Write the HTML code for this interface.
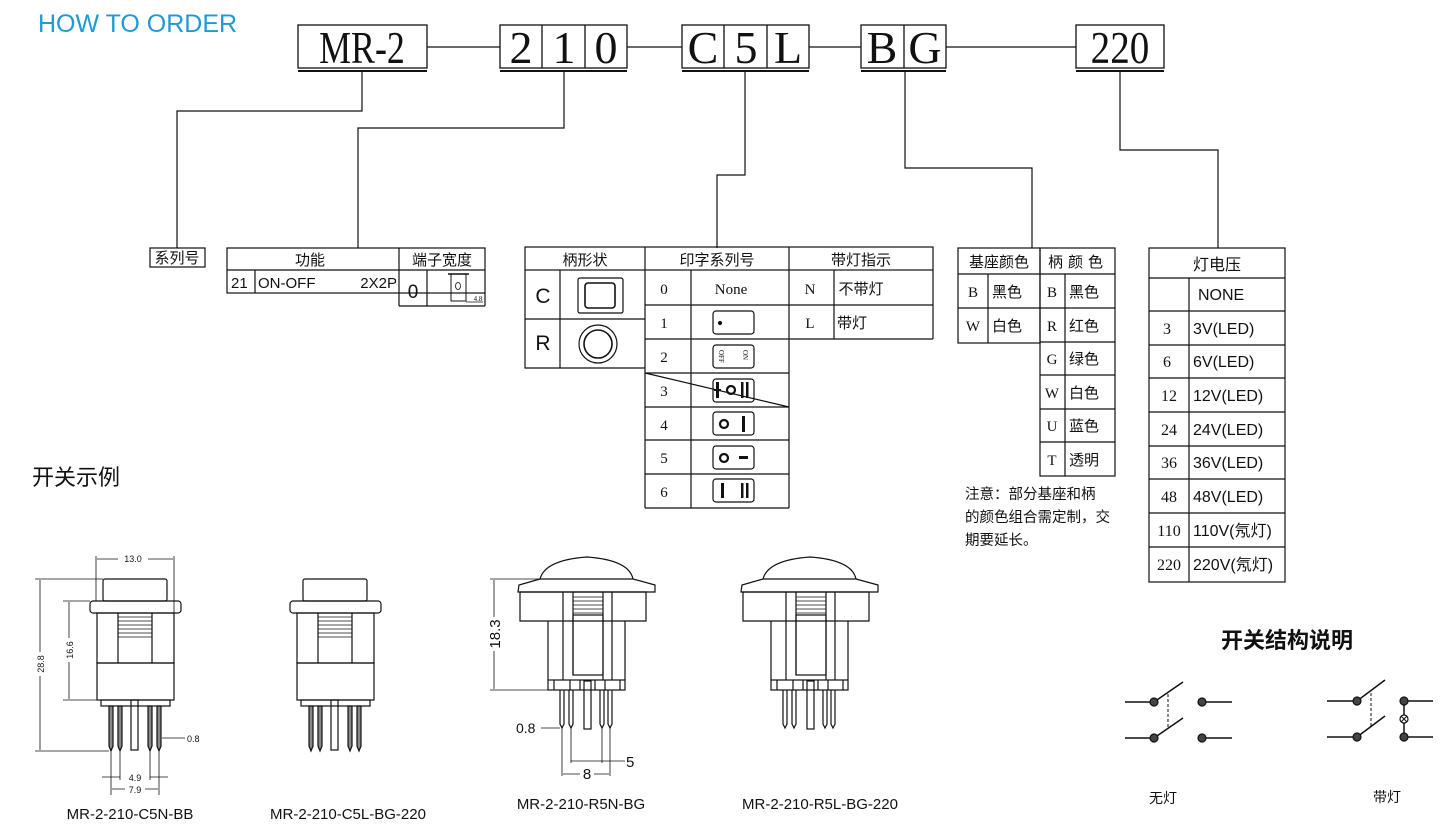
<!DOCTYPE html>
<html><head><meta charset="utf-8"><style>
html,body{margin:0;padding:0;background:#fff;}
svg{display:block;}
.s{font-family:"Liberation Serif","Noto Serif CJK SC",serif;}
.a{font-family:"Liberation Sans","Noto Sans CJK SC",sans-serif;}
.c{font-family:"Liberation Serif","Noto Sans CJK SC",sans-serif;}
</style></head><body>
<svg width="1450" height="836" viewBox="0 0 1450 836" xmlns="http://www.w3.org/2000/svg" fill="none" stroke="#111" stroke-width="1.2">
<text x="38" y="32" class="a" font-size="25" fill="#1e9ad6" stroke="none">HOW TO ORDER</text>

<!-- top code boxes -->
<g stroke-width="1.3">
<rect x="298" y="25" width="129" height="43"/><line x1="298" y1="71" x2="427" y2="71" stroke-width="2"/>
<rect x="500" y="25" width="127" height="43"/><line x1="542" y1="25" x2="542" y2="68"/><line x1="585" y1="25" x2="585" y2="68"/><line x1="500" y1="71" x2="627" y2="71" stroke-width="2"/>
<rect x="682" y="25" width="127" height="43"/><line x1="724" y1="25" x2="724" y2="68"/><line x1="767" y1="25" x2="767" y2="68"/><line x1="682" y1="71" x2="809" y2="71" stroke-width="2"/>
<rect x="861" y="25" width="85" height="43"/><line x1="904" y1="25" x2="904" y2="68"/><line x1="861" y1="71" x2="946" y2="71" stroke-width="2"/>
<rect x="1076" y="25" width="88" height="43"/><line x1="1076" y1="71" x2="1164" y2="71" stroke-width="2"/>
<line x1="427" y1="47" x2="500" y2="47"/><line x1="627" y1="47" x2="682" y2="47"/><line x1="809" y1="47" x2="861" y2="47"/><line x1="946" y1="47" x2="1076" y2="47"/>
</g>
<g class="s" font-size="46" fill="#111" stroke="none" text-anchor="middle">
<text x="362" y="63" transform="translate(362 0) scale(0.78 1) translate(-362 0)">MR-2</text>
<text x="521" y="63">2</text><text x="564" y="63">1</text><text x="606" y="63">0</text>
<text x="703" y="63">C</text><text x="746" y="63">5</text><text x="788" y="63">L</text>
<text x="882" y="63">B</text><text x="925" y="63">G</text>
<text x="1120" y="63" transform="translate(1120 0) scale(0.85 1) translate(-1120 0)">220</text>
</g>

<!-- connectors -->
<polyline points="362,72 362,111 177,111 177,248"/>
<polyline points="564,72 564,128 358,128 358,248"/>
<polyline points="745,72 745,175 717,175 717,248"/>
<polyline points="905,72 905,168 1032,168 1032,248"/>
<polyline points="1120,72 1120,150 1218,150 1218,248"/>

<!-- 系列号 -->
<rect x="150" y="248" width="55" height="19"/>
<text x="177" y="263" class="c" font-size="15" fill="#111" stroke="none" text-anchor="middle">系列号</text>

<!-- function table -->
<rect x="227" y="248" width="258" height="45"/>
<line x1="227" y1="270" x2="485" y2="270"/>
<line x1="399" y1="248" x2="399" y2="306"/><line x1="399" y1="306" x2="485" y2="306"/><line x1="485" y1="293" x2="485" y2="306"/>
<line x1="255" y1="270" x2="255" y2="293"/><line x1="427" y1="270" x2="427" y2="306"/>
<g fill="#111" stroke="none">
<text x="310" y="265" class="c" font-size="15" text-anchor="middle">功能</text>
<text x="442" y="265" class="c" font-size="15" text-anchor="middle">端子宽度</text>
<text x="231" y="288" class="a" font-size="15">21</text>
<text x="258" y="288" class="a" font-size="15">ON-OFF</text>
<text x="397" y="288" class="a" font-size="15" text-anchor="end">2X2P</text>
<text x="413" y="298" class="a" font-size="19" text-anchor="middle">0</text>
<text x="478" y="301" class="s" font-size="7" text-anchor="middle">4.8</text>
</g>
<rect x="451" y="274" width="15" height="27" stroke-width="1"/><line x1="448" y1="274" x2="469" y2="274" stroke-width="1.5"/>
<ellipse cx="458" cy="286" rx="2.5" ry="3.5" stroke-width="0.8"/><line x1="466" y1="302" x2="483" y2="302" stroke-width="0.7"/>

<!-- handle shape table -->
<rect x="525" y="247" width="408" height="23"/>
<line x1="645" y1="247" x2="645" y2="508"/><line x1="789" y1="247" x2="789" y2="508"/><line x1="933" y1="270" x2="933" y2="339"/>
<polyline points="525,270 525,368 645,368"/><line x1="525" y1="319" x2="645" y2="319"/><line x1="560" y1="270" x2="560" y2="368"/>
<line x1="645" y1="508" x2="789" y2="508"/>
<line x1="691" y1="270" x2="691" y2="508"/><line x1="834" y1="270" x2="834" y2="339"/>
<line x1="645" y1="305" x2="933" y2="305"/><line x1="645" y1="339" x2="933" y2="339"/>
<line x1="645" y1="373" x2="789" y2="373"/><line x1="645" y1="407" x2="789" y2="407"/><line x1="645" y1="440" x2="789" y2="440"/><line x1="645" y1="474" x2="789" y2="474"/>
<line x1="645" y1="373" x2="789" y2="407"/>
<g fill="#111" stroke="none" class="c" font-size="15" text-anchor="middle">
<text x="585" y="265">柄形状</text><text x="717" y="265">印字系列号</text><text x="861" y="265">带灯指示</text>
<text x="543" y="303" class="a" font-size="21">C</text><text x="543" y="350" class="a" font-size="21">R</text>
<text x="664" y="294">0</text><text x="664" y="328">1</text><text x="664" y="362">2</text><text x="664" y="396">3</text><text x="664" y="430">4</text><text x="664" y="463">5</text><text x="664" y="497">6</text>
<text x="731" y="294">None</text>
<text x="810" y="294">N</text><text x="810" y="328">L</text>
<text x="861" y="294">不带灯</text><text x="852" y="328">带灯</text>
</g>
<rect x="578" y="278" width="45" height="35" rx="2"/><rect x="585" y="283" width="30" height="25" rx="3" stroke-width="1.6"/>
<circle cx="598" cy="344" r="19"/><circle cx="598" cy="344" r="14" stroke-width="1.6"/>
<rect x="713" y="311" width="41" height="23" rx="3"/><circle cx="720" cy="323" r="1.5" fill="#111"/>
<rect x="713" y="345" width="41" height="23" rx="3"/>
<text x="0" y="0" class="s" font-size="7" fill="#111" stroke="none" transform="translate(719 350) rotate(90)">OFF</text>
<text x="0" y="0" class="s" font-size="7" fill="#111" stroke="none" transform="translate(743 350) rotate(90)">ON</text>
<rect x="713" y="379" width="41" height="23" rx="3"/>
<g fill="#111" stroke="none"><rect x="716" y="382" width="3" height="16"/><rect x="714" y="389" width="7" height="2"/><rect x="741" y="382" width="2.5" height="16"/><rect x="746" y="382" width="2.5" height="16"/></g><circle cx="731" cy="390" r="4" stroke-width="2.2"/>
<rect x="713" y="412" width="41" height="23" rx="3"/><circle cx="724" cy="424" r="4" stroke-width="2.2"/><rect x="742" y="416" width="3" height="16" fill="#111" stroke="none"/>
<rect x="713" y="446" width="41" height="23" rx="3"/><circle cx="724" cy="458" r="4" stroke-width="2.2"/><rect x="739" y="456" width="9" height="3" fill="#111" stroke="none"/>
<rect x="713" y="479" width="41" height="23" rx="3"/><g fill="#111" stroke="none"><rect x="721" y="483" width="3" height="15"/><rect x="741" y="483" width="2.5" height="15"/><rect x="746" y="483" width="2.5" height="15"/></g>

<!-- color tables -->
<rect x="958" y="248" width="82" height="95"/><line x1="958" y1="274" x2="1115" y2="274"/><line x1="958" y1="308" x2="1115" y2="308"/><line x1="988" y1="274" x2="988" y2="343"/>
<rect x="1040" y="248" width="75" height="228"/><line x1="1065" y1="274" x2="1065" y2="476"/>
<line x1="1040" y1="342" x2="1115" y2="342"/><line x1="1040" y1="375" x2="1115" y2="375"/><line x1="1040" y1="409" x2="1115" y2="409"/><line x1="1040" y1="442" x2="1115" y2="442"/>
<g fill="#111" stroke="none" class="c" font-size="15">
<text x="999" y="267" text-anchor="middle">基座颜色</text><text x="1078" y="267" text-anchor="middle" letter-spacing="5">柄颜色</text>
<text x="973" y="297" text-anchor="middle">B</text><text x="973" y="331" text-anchor="middle">W</text>
<text x="992" y="297">黑色</text><text x="992" y="331">白色</text>
<g text-anchor="middle"><text x="1052" y="297">B</text><text x="1052" y="331">R</text><text x="1052" y="364">G</text><text x="1052" y="398">W</text><text x="1052" y="431">U</text><text x="1052" y="465">T</text></g>
<text x="1069" y="297">黑色</text><text x="1069" y="331">红色</text><text x="1069" y="364">绿色</text><text x="1069" y="398">白色</text><text x="1069" y="431">蓝色</text><text x="1069" y="465">透明</text>
<text x="965" y="499" font-size="14.5">注意：部分基座和柄</text>
<text x="965" y="522" font-size="14.5">的颜色组合需定制，交</text>
<text x="965" y="545" font-size="14.5">期要延长。</text>
</g>

<!-- voltage table -->
<rect x="1149" y="248" width="136" height="334"/>
<line x1="1189" y1="278" x2="1189" y2="582"/>
<g>
<line x1="1149" y1="278" x2="1285" y2="278"/><line x1="1149" y1="311" x2="1285" y2="311"/><line x1="1149" y1="345" x2="1285" y2="345"/><line x1="1149" y1="378" x2="1285" y2="378"/><line x1="1149" y1="412" x2="1285" y2="412"/><line x1="1149" y1="446" x2="1285" y2="446"/><line x1="1149" y1="479" x2="1285" y2="479"/><line x1="1149" y1="513" x2="1285" y2="513"/><line x1="1149" y1="547" x2="1285" y2="547"/>
</g>
<g fill="#111" stroke="none" font-size="16">
<text x="1217" y="270" class="c" text-anchor="middle">灯电压</text>
<g class="s" text-anchor="middle"><text x="1167" y="334">3</text><text x="1167" y="367">6</text><text x="1169" y="401">12</text><text x="1169" y="435">24</text><text x="1169" y="468">36</text><text x="1169" y="502">48</text><text x="1169" y="536">110</text><text x="1169" y="570">220</text></g>
<g class="a"><text x="1198" y="300">NONE</text><text x="1193" y="334">3V(LED)</text><text x="1193" y="367">6V(LED)</text><text x="1193" y="401">12V(LED)</text><text x="1193" y="435">24V(LED)</text><text x="1193" y="468">36V(LED)</text><text x="1193" y="502">48V(LED)</text><text x="1193" y="536">110V(氖灯)</text><text x="1193" y="570">220V(氖灯)</text></g>
</g>

<text x="32" y="485" class="c" font-size="22" fill="#111" stroke="none">开关示例</text>

<!-- square switches -->
<g id="sq">
<rect x="103" y="579" width="64" height="22" rx="2"/>
<rect x="90" y="601" width="91" height="12" rx="3"/>
<rect x="97" y="613" width="77" height="50"/>
<rect x="97" y="663" width="77" height="37"/>
<line x1="118" y1="613" x2="118" y2="663"/><line x1="152" y1="613" x2="152" y2="663"/>
<g stroke-width="0.8"><line x1="118" y1="617" x2="152" y2="617"/><line x1="118" y1="621" x2="152" y2="621"/><line x1="118" y1="625" x2="152" y2="625"/><line x1="118" y1="629" x2="152" y2="629"/><line x1="118" y1="633" x2="152" y2="633"/><line x1="118" y1="637" x2="152" y2="637"/></g>
<rect x="101" y="700" width="69" height="6"/>
<rect x="131" y="700" width="7" height="50"/>
<g fill="#888"><path d="M109 706h4v40l-2 5l-2-5z"/><path d="M118 706h4v40l-2 5l-2-5z"/><path d="M148 706h4v40l-2 5l-2-5z"/><path d="M157 706h4v40l-2 5l-2-5z"/></g>
</g>
<use href="#sq" transform="translate(200 0)"/>
<!-- dims sq1 -->
<g stroke-width="0.8">
<line x1="96" y1="556" x2="96" y2="601"/><line x1="174" y1="556" x2="174" y2="613"/><line x1="97" y1="559" x2="173" y2="559"/>
<line x1="35" y1="579" x2="103" y2="579"/><line x1="35" y1="751" x2="109" y2="751"/><line x1="40" y1="580" x2="40" y2="750"/>
<line x1="63" y1="601" x2="90" y2="601"/><line x1="63" y1="700" x2="97" y2="700"/><line x1="69" y1="602" x2="69" y2="699"/>
<line x1="111" y1="752" x2="111" y2="795"/><line x1="159" y1="752" x2="159" y2="795"/><line x1="120" y1="752" x2="120" y2="780"/><line x1="150" y1="752" x2="150" y2="780"/>
<line x1="102" y1="777" x2="120" y2="777"/><line x1="150" y1="777" x2="168" y2="777"/><line x1="112" y1="789" x2="158" y2="789"/>
<line x1="162" y1="738" x2="185" y2="738"/>
</g>
<g fill="#111" stroke="none" class="a" font-size="9">
<rect x="118" y="553" width="30" height="11" fill="#fff"/><text x="133" y="562" text-anchor="middle">13.0</text>
<rect x="34" y="652" width="12" height="24" fill="#fff"/><text transform="translate(44 664) rotate(-90)" text-anchor="middle">28.8</text>
<rect x="63" y="638" width="12" height="24" fill="#fff"/><text transform="translate(73 650) rotate(-90)" text-anchor="middle">16.6</text>
<text x="135" y="781" text-anchor="middle">4.9</text>
<rect x="125" y="784" width="20" height="10" fill="#fff"/><text x="135" y="793" text-anchor="middle">7.9</text>
<text x="187" y="742">0.8</text>
</g>

<!-- round switches -->
<g id="rd">
<path d="M540 579 Q545 560 587 557 Q629 560 633 579"/>
<path d="M518 592 L519 585 L540 579 L633 579 L655 585 L655 592 Z"/>
<path d="M520 592 h126 v29 h-126 z"/>
<line x1="563" y1="592" x2="563" y2="680"/><line x1="603" y1="592" x2="603" y2="680"/><line x1="573" y1="592" x2="573" y2="675"/><line x1="612" y1="592" x2="612" y2="680"/>
<rect x="573" y="615" width="30" height="60"/>
<g stroke-width="0.7"><line x1="573" y1="597" x2="603" y2="597"/><line x1="573" y1="601" x2="603" y2="601"/><line x1="573" y1="605" x2="603" y2="605"/><line x1="573" y1="609" x2="603" y2="609"/><line x1="573" y1="613" x2="603" y2="613"/></g>
<line x1="548" y1="621" x2="548" y2="680"/><line x1="625" y1="621" x2="625" y2="680"/>
<rect x="548" y="680" width="77" height="10"/>
<line x1="554" y1="680" x2="554" y2="690"/><line x1="570" y1="680" x2="570" y2="690"/><line x1="580" y1="680" x2="580" y2="690"/><line x1="595" y1="680" x2="595" y2="690"/><line x1="605" y1="680" x2="605" y2="690"/><line x1="620" y1="680" x2="620" y2="690"/>
<rect x="584" y="681" width="7" height="48"/>
<path d="M560 690v34l2 4l2-4v-34"/><path d="M569 690v34l2 4l2-4v-34"/><path d="M600 690v34l2 4l2-4v-34"/><path d="M608 690v34l2 4l2-4v-34"/>
</g>
<use href="#rd" transform="translate(223 0)"/>
<g stroke-width="0.8">
<line x1="490" y1="579" x2="540" y2="579"/><line x1="490" y1="690" x2="548" y2="690"/><line x1="494" y1="580" x2="494" y2="689"/>
<line x1="541" y1="728" x2="560" y2="728"/><line x1="562" y1="728" x2="562" y2="776"/><line x1="571" y1="728" x2="571" y2="763"/><line x1="602" y1="728" x2="602" y2="763"/><line x1="610" y1="728" x2="610" y2="776"/>
<line x1="571" y1="761" x2="625" y2="761"/><line x1="563" y1="774" x2="609" y2="774"/>
</g>
<g fill="#111" stroke="none" class="a">
<rect x="487" y="617" width="14" height="34" fill="#fff"/><text transform="translate(500 634) rotate(-90)" text-anchor="middle" font-size="15">18.3</text>
<text x="516" y="733" font-size="14">0.8</text>
<text x="626" y="767" font-size="15">5</text>
<rect x="580" y="766" width="14" height="14" fill="#fff"/><text x="587" y="779" font-size="15" text-anchor="middle">8</text>
</g>

<g fill="#111" stroke="none" class="a" font-size="15" text-anchor="middle">
<text x="130" y="819">MR-2-210-C5N-BB</text><text x="348" y="819">MR-2-210-C5L-BG-220</text>
<text x="581" y="809">MR-2-210-R5N-BG</text><text x="820" y="809">MR-2-210-R5L-BG-220</text>
</g>

<!-- switch structure -->
<text x="1287" y="648" class="a" font-size="22" fill="#111" stroke="none" text-anchor="middle" font-weight="bold">开关结构说明</text>
<g stroke-width="1.5">
<line x1="1125" y1="702" x2="1154" y2="702"/><line x1="1154" y1="702" x2="1183" y2="682"/>
<line x1="1125" y1="738" x2="1154" y2="738"/><line x1="1154" y1="738" x2="1183" y2="718"/>
<line x1="1202" y1="702" x2="1232" y2="702"/><line x1="1202" y1="738" x2="1232" y2="738"/>
<line x1="1168" y1="694" x2="1168" y2="727" stroke-dasharray="3,2" stroke-width="1"/>
<line x1="1327" y1="701" x2="1357" y2="701"/><line x1="1357" y1="701" x2="1385" y2="680"/>
<line x1="1327" y1="737" x2="1357" y2="737"/><line x1="1357" y1="737" x2="1385" y2="716"/>
<line x1="1371" y1="693" x2="1371" y2="726" stroke-dasharray="3,2" stroke-width="1"/>
<line x1="1404" y1="701" x2="1433" y2="701"/><line x1="1404" y1="737" x2="1433" y2="737"/><line x1="1404" y1="701" x2="1404" y2="737"/>
</g>
<g fill="#444" stroke="#111">
<circle cx="1154" cy="702" r="4"/><circle cx="1154" cy="738" r="4"/><circle cx="1202" cy="702" r="4"/><circle cx="1202" cy="738" r="4"/>
<circle cx="1357" cy="701" r="4"/><circle cx="1357" cy="737" r="4"/><circle cx="1404" cy="701" r="4"/><circle cx="1404" cy="737" r="4"/>
</g>
<circle cx="1404" cy="719" r="4" fill="#fff"/><path d="M1401 716l6 6M1407 716l-6 6" stroke-width="1"/>
<g fill="#111" stroke="none" class="c" font-size="14" text-anchor="middle"><text x="1163" y="803">无灯</text><text x="1387" y="802">带灯</text></g>
</svg>
</body></html>
